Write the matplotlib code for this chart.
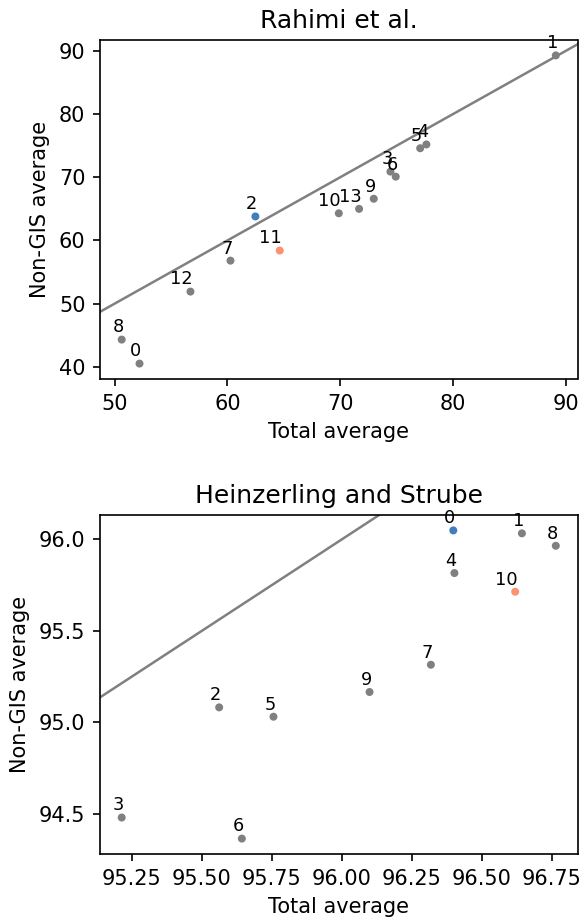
import matplotlib
matplotlib.use("Agg")
import matplotlib.pyplot as plt
from matplotlib.ticker import MultipleLocator

# Rahimi et al. (point labels 0..13)
rahimi_total = [52.2, 89.13, 62.48, 74.46, 77.65, 77.1, 74.93,
                60.27, 50.62, 72.98, 69.88, 64.64, 56.72, 71.68]
rahimi_nongis = [40.5, 89.3, 63.8, 70.9, 75.2, 74.6, 70.1,
                 56.8, 44.3, 66.6, 64.3, 58.4, 51.9, 65.0]
rahimi_best = 2
rahimi_worst = 11

# Heinzerling and Strube (point labels 0..10)
hs_total = [96.398, 96.643, 95.562, 95.214, 96.402, 95.756, 95.643,
            96.318, 96.764, 96.099, 96.619]
hs_nongis = [96.049, 96.033, 95.082, 94.48, 95.816, 95.031, 94.365,
             95.315, 95.965, 95.166, 95.714]
hs_best = 0
hs_worst = 10

BLUE = "#3f7fbb"
ORANGE = "#fb9270"
GREY = "grey"


def draw_panel(ax, xs, ys, best, worst, title):
    colors = []
    for i in range(len(xs)):
        if i == best:
            colors.append(BLUE)
        elif i == worst:
            colors.append(ORANGE)
        else:
            colors.append(GREY)
    ax.scatter(xs, ys, s=8, c=colors, zorder=3)
    for i, (x, y) in enumerate(zip(xs, ys)):
        ax.annotate(str(i), (x, y), xytext=(1, 1.5), textcoords="offset points",
                    ha="right", va="bottom", fontsize=8.5)
    # keep the limits from the points only, then add the y = x line
    xl = ax.get_xlim()
    yl = ax.get_ylim()
    ax.axline((0, 0), slope=1, color="grey", lw=1.2)
    ax.set_xlim(xl)
    ax.set_ylim(yl)
    ax.set_title(title)
    ax.set_xlabel("Total average")
    ax.set_ylabel("Non-GIS average")


W, H = 579, 919
DPI = 150
fig = plt.figure(figsize=(W / DPI, H / DPI), dpi=DPI)
ax1 = fig.add_axes([100 / W, 1 - 379 / H, 477.5 / W, 339 / H])
ax2 = fig.add_axes([100 / W, 1 - 854 / H, 477.5 / W, 339 / H])

draw_panel(ax1, rahimi_total, rahimi_nongis, rahimi_best, rahimi_worst, "Rahimi et al.")
draw_panel(ax2, hs_total, hs_nongis, hs_best, hs_worst, "Heinzerling and Strube")
ax2.yaxis.set_major_locator(MultipleLocator(0.5))

fig.savefig("out.png", dpi=DPI)
